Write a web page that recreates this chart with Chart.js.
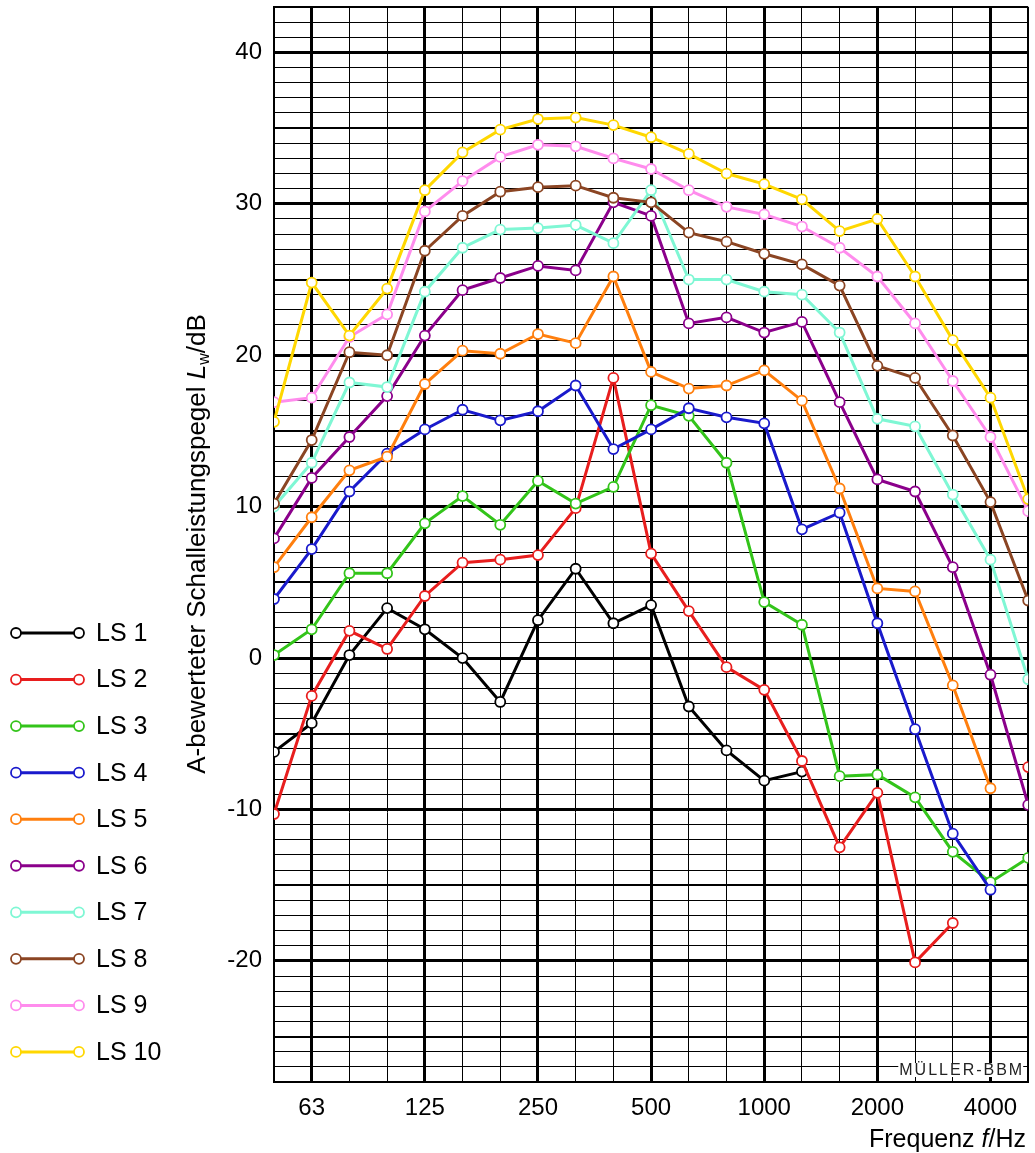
<!DOCTYPE html>
<html>
<head>
<meta charset="utf-8">
<script src="https://cdn.jsdelivr.net/npm/chart.js@4.4.1/dist/chart.umd.min.js"></script>
<style>
  html, body { margin: 0; padding: 0; background: #fff; }
  #wrap { width: 1035px; height: 1153px; position: relative; }
</style>
</head>
<body>
<div id="wrap"><canvas id="levelChart"></canvas></div>
<script>
// third-octave band centre frequencies (Hz)
const bands = ['50', '63', '80', '100', '125', '160', '200', '250', '315', '400', '500',
  '630', '800', '1000', '1250', '1600', '2000', '2500', '3150', '4000', '5000'];
const octaveLabels = ['63', '125', '250', '500', '1000', '2000', '4000'];
const yTickLabels = [40, 30, 20, 10, 0, -10, -20];

const ls1 = [-6.2, -4.3, 0.2, 3.3, 1.9, 0.0, -2.9, 2.5, 5.9, 2.3, 3.5, -3.2, -6.1, -8.1, -7.5, null, null, null, null, null, null];
const ls2 = [-10.3, -2.5, 1.8, 0.6, 4.1, 6.3, 6.5, 6.8, 9.9, 18.5, 6.9, 3.1, -0.6, -2.1, -6.8, -12.5, -8.9, -20.1, -17.5, null, -7.2];
const ls3 = [0.2, 1.9, 5.6, 5.6, 8.9, 10.7, 8.8, 11.7, 10.2, 11.3, 16.7, 16.0, 12.9, 3.7, 2.2, -7.8, -7.7, -9.2, -12.8, -14.8, -13.2];
const ls4 = [3.9, 7.2, 11.0, 13.5, 15.1, 16.4, 15.7, 16.3, 18.0, 13.8, 15.1, 16.5, 15.9, 15.5, 8.5, 9.6, 2.3, -4.7, -11.6, -15.3, null];
const ls5 = [6.0, 9.3, 12.4, 13.3, 18.1, 20.3, 20.1, 21.4, 20.8, 25.2, 18.9, 17.8, 18.0, 19.0, 17.0, 11.2, 4.6, 4.4, -1.8, -8.6, null];
const ls6 = [7.9, 11.9, 14.6, 17.3, 21.3, 24.3, 25.1, 25.9, 25.6, 30.1, 29.2, 22.1, 22.5, 21.5, 22.2, 16.9, 11.8, 11.0, 6.0, -1.1, -9.7];
const ls7 = [10.0, 12.9, 18.2, 17.9, 24.2, 27.1, 28.3, 28.4, 28.6, 27.4, 30.9, 25.0, 25.0, 24.2, 24.0, 21.5, 15.8, 15.3, 10.8, 6.5, -1.4];
const ls8 = [10.2, 14.4, 20.2, 20.0, 26.9, 29.2, 30.8, 31.1, 31.2, 30.4, 30.1, 28.1, 27.5, 26.7, 26.0, 24.6, 19.3, 18.5, 14.7, 10.3, 3.8];
const ls9 = [16.9, 17.2, 21.2, 22.7, 29.5, 31.5, 33.1, 33.9, 33.8, 33.0, 32.3, 30.9, 29.8, 29.3, 28.5, 27.1, 25.2, 22.1, 18.3, 14.6, 9.7];
const ls10 = [15.6, 24.8, 21.3, 24.4, 30.9, 33.4, 34.9, 35.6, 35.7, 35.2, 34.4, 33.3, 32.0, 31.3, 30.3, 28.2, 29.0, 25.2, 21.0, 17.2, 10.5];

const seriesNames = ['LS 1', 'LS 2', 'LS 3', 'LS 4', 'LS 5', 'LS 6', 'LS 7', 'LS 8', 'LS 9', 'LS 10'];
const seriesValues = [ls1, ls2, ls3, ls4, ls5, ls6, ls7, ls8, ls9, ls10];
const seriesColors = ['#000000', '#e81e1e', '#33c41a', '#1a1acc', '#ff7f0e',
  '#8b008b', '#7ff7d4', '#8b4523', '#ff8ced', '#ffd700'];

const FONT = '"Liberation Sans", Arial, sans-serif';

function drawRuns(ctx, runs, x, y, align) {
  let total = 0;
  runs.forEach((run) => {
    ctx.font = run.font;
    total += ctx.measureText(run.text).width;
  });
  let cursor = align === 'right' ? x - total : x - total / 2;
  runs.forEach((run) => {
    ctx.font = run.font;
    ctx.fillText(run.text, cursor, y + (run.dy || 0));
    cursor += ctx.measureText(run.text).width;
  });
}

const titlesPlugin = {
  id: 'titles',
  afterDraw(chart) {
    const ctx = chart.ctx;
    const area = chart.chartArea;
    ctx.save();
    ctx.fillStyle = '#000';
    ctx.textBaseline = 'alphabetic';
    ctx.textAlign = 'left';

    // y axis title, rotated
    ctx.save();
    ctx.translate(205, 544);
    ctx.rotate(-Math.PI / 2);
    drawRuns(ctx, [
      { text: 'A-bewerteter Schalleistungspegel ', font: `26px ${FONT}` },
      { text: 'L', font: `italic 26px ${FONT}` },
      { text: 'w', font: `16px ${FONT}`, dy: 4 },
      { text: '/dB', font: `26px ${FONT}` },
    ], 0, 0, 'center');
    ctx.restore();

    // x axis title
    drawRuns(ctx, [
      { text: 'Frequenz ', font: `25px ${FONT}` },
      { text: 'f', font: `italic 25px ${FONT}` },
      { text: '/Hz', font: `25px ${FONT}` },
    ], 1026, 1147, 'right');

    // watermark
    ctx.font = `16px ${FONT}`;
    ctx.letterSpacing = '2px';
    const mark = 'MÜLLER-BBM';
    const w = ctx.measureText(mark).width;
    const mx = area.right - 4 - w;
    const my = area.bottom - 12;
    ctx.fillStyle = '#fff';
    ctx.fillRect(mx - 1, my - 7, w, 14);
    ctx.fillStyle = '#222';
    ctx.textBaseline = 'middle';
    ctx.fillText(mark, mx, my + 1);
    ctx.restore();
  }
};

const sideLegendPlugin = {
  id: 'sideLegend',
  afterDraw(chart) {
    const ctx = chart.ctx;
    ctx.save();
    seriesNames.forEach((name, i) => {
      const y = 633 + i * 46.55;
      ctx.strokeStyle = seriesColors[i];
      ctx.lineWidth = 3;
      ctx.beginPath();
      ctx.moveTo(16, y);
      ctx.lineTo(79, y);
      ctx.stroke();
      [16, 79].forEach((cx) => {
        ctx.beginPath();
        ctx.arc(cx, y, 5, 0, Math.PI * 2);
        ctx.fillStyle = '#fff';
        ctx.fill();
        ctx.lineWidth = 1.8;
        ctx.stroke();
      });
      ctx.fillStyle = '#000';
      ctx.font = `25px ${FONT}`;
      ctx.textBaseline = 'middle';
      ctx.textAlign = 'left';
      ctx.fillText(name, 96, y + 1);
    });
    ctx.restore();
  }
};

function zeroPadding(scale) {
  scale.paddingTop = 0;
  scale.paddingBottom = 0;
  scale.paddingLeft = 0;
  scale.paddingRight = 0;
}

function initializeChart() {
  const datasets = seriesNames.map((name, i) => ({
    label: name,
    data: seriesValues[i],
    borderColor: seriesColors[i],
    borderWidth: 3,
    pointRadius: 5,
    pointBorderWidth: 1.8,
    pointBackgroundColor: '#fff',
    pointBorderColor: seriesColors[i],
    tension: 0,
    spanGaps: false,
    clip: 0,
    order: seriesNames.length - 1 - i,
  }));

  new Chart(document.getElementById('levelChart'), {
    type: 'line',
    data: { labels: bands, datasets },
    options: {
      responsive: true,
      maintainAspectRatio: false,
      animation: false,
      events: [],
      layout: { padding: { top: 7, right: 5, left: 0, bottom: 0 } },
      plugins: { legend: { display: false }, tooltip: { enabled: false } },
      scales: {
        x: {
          type: 'category',
          offset: false,
          afterFit: (scale) => { scale.height = 71; zeroPadding(scale); },
          border: { display: true, color: '#000', width: 2 },
          grid: {
            drawTicks: false,
            color: '#000',
            lineWidth: (c) => {
              const label = bands[c.index];
              if (octaveLabels.includes(label)) return 3;
              if (c.index === 0 || c.index === bands.length - 1) return 2;
              return 1;
            },
          },
          ticks: {
            autoSkip: false,
            maxRotation: 0,
            padding: 12,
            color: '#000',
            font: { family: FONT, size: 24 },
            callback: (value, index) => (octaveLabels.includes(bands[index]) ? bands[index] : ''),
          },
        },
        y: {
          min: -28,
          max: 43,
          afterFit: (scale) => { scale.width = 274; zeroPadding(scale); },
          border: { display: true, color: '#000', width: 2 },
          grid: {
            drawTicks: false,
            color: '#000',
            lineWidth: (c) => {
              const v = c.tick.value;
              if (v % 10 === 0) return 3;
              if (v % 5 === 0) return 2;
              if (v === -28 || v === 43) return 2;
              return 1;
            },
          },
          ticks: {
            stepSize: 1,
            autoSkip: false,
            padding: 12,
            color: '#000',
            font: { family: FONT, size: 24 },
            callback: (value) => (yTickLabels.includes(value) ? String(value) : ''),
          },
        },
      },
    },
    plugins: [titlesPlugin, sideLegendPlugin],
  });
}

document.addEventListener('DOMContentLoaded', initializeChart);
</script>
</body>
</html>
